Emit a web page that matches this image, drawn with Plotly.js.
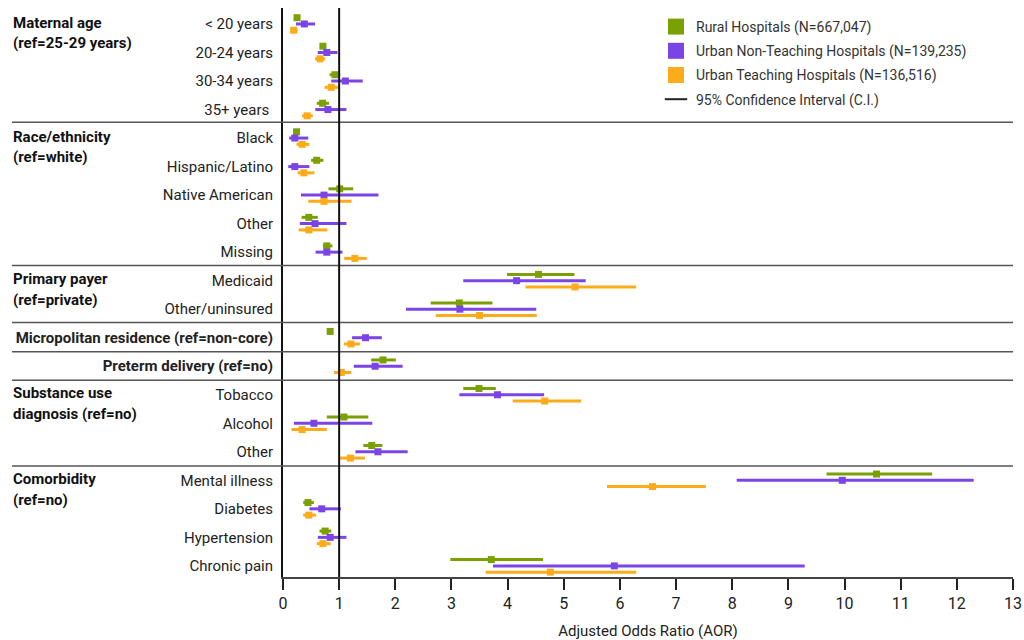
<!DOCTYPE html>
<html>
<head>
<meta charset="utf-8">
<script src="https://cdn.plot.ly/plotly-3.0.1.min.js"></script>
<style>html,body{margin:0;padding:0;background:#fff;}#chart{width:1024px;height:640px;}</style>
</head>
<body>
<div id="chart"></div>
<script>
// Row labels (top to bottom)
var rowLabels = ['< 20 years','20-24 years','30-34 years','35+ years\u00a0',
  'Black','Hispanic/Latino','Native American','Other','Missing',
  'Medicaid','Other/uninsured',
  '<b>Micropolitan residence (ref=non-core)</b>',
  '<b>Preterm delivery (ref=no)</b>',
  'Tobacco','Alcohol','Other',
  'Mental illness','Diabetes','Hypertension','Chronic pain'];

// Group labels: [title, subtitle, first row index]
var groupTitles = ['Maternal age','Race/ethnicity','Primary payer','Substance use','Comorbidity'];
var groupSubs   = ['(ref=25-29 years)','(ref=white)','(ref=private)','diagnosis (ref=no)','(ref=no)'];
var groupRows   = [0, 4, 9, 13, 16];
var separators  = [3.45, 8.47, 10.47, 11.49, 12.49, 15.5];

// Rural Hospitals
var ruralOR = [0.25,0.71,0.925,0.705, 0.24,0.60,1.01,0.46,0.78, 4.55,3.14, 0.84, 1.78, 3.49,1.085,1.58, 10.57,0.445,0.75,3.71];
var ruralLo = [0.22,0.68,0.83,0.60, 0.19,0.50,0.81,0.33,0.71, 3.99,2.63, 0.82, 1.57, 3.21,0.78,1.43, 9.68,0.36,0.65,2.98];
var ruralHi = [0.28,0.77,1.02,0.82, 0.29,0.72,1.25,0.62,0.88, 5.19,3.73, 0.86, 2.01, 3.79,1.52,1.77, 11.56,0.55,0.86,4.63];

// Urban Non-Teaching Hospitals
var untOR = [0.38,0.78,1.11,0.80, 0.21,0.21,0.73,0.57,0.78, 4.16,3.15, 1.47,1.64, 3.82,0.55,1.69, 9.96,0.69,0.84,5.90];
var untLo = [0.23,0.62,0.86,0.575, 0.11,0.094,0.32,0.30,0.58, 3.21,2.19, 1.23,1.26, 3.14,0.195,1.29, 8.08,0.47,0.62,3.74];
var untHi = [0.57,0.97,1.42,1.13, 0.45,0.47,1.70,1.13,1.06, 5.39,4.51, 1.76,2.13, 4.65,1.59,2.22, 12.30,1.03,1.13,9.29];

// Urban Teaching Hospitals
var utOR = [0.19,0.66,0.86,0.43, 0.34,0.37,0.73,0.46,1.28, 5.20,3.50, 1.21,1.04, 4.66,0.34,1.20, 6.58,0.46,0.71,4.76];
var utLo = [0.14,0.57,0.74,0.34, 0.24,0.26,0.45,0.28,1.09, 4.32,2.72, 1.085,0.91, 4.09,0.15,1.01, 5.77,0.36,0.60,3.61];
var utHi = [0.26,0.75,0.99,0.53, 0.47,0.56,1.22,0.79,1.49, 6.29,4.52, 1.375,1.215, 5.31,0.78,1.46, 7.53,0.59,0.85,6.29];

var seriesNames = ['Rural Hospitals (N=667,047)','Urban Non-Teaching Hospitals (N=139,235)','Urban Teaching Hospitals (N=136,516)'];
var ciName = '95% Confidence Interval (C.I.)';
var colors = ['#7ba002','#7b45e6','#feab1a'];
var offsets = [-0.22, 0, 0.22];

var rows = rowLabels.map(function(_, i){ return i; });
var sets = [[ruralOR,ruralLo,ruralHi],[untOR,untLo,untHi],[utOR,utLo,utHi]];

var traces = [];
sets.forEach(function(s, k){
  var or = s[0], lo = s[1], hi = s[2];
  traces.push({
    type:'scatter', mode:'markers',
    x: or,
    y: rows.map(function(r){ return r + offsets[k]; }),
    marker:{symbol:'square', size:7, color:colors[k]},
    error_x:{type:'data', symmetric:false,
      array: or.map(function(v,i){ return hi[i]-v; }),
      arrayminus: or.map(function(v,i){ return v-lo[i]; }),
      width:0, thickness:3, color:colors[k]},
    showlegend:false, hoverinfo:'x'
  });
});
// legend entries
seriesNames.forEach(function(n,k){
  traces.push({type:'scatter', mode:'markers', x:[null], y:[null], name:n,
    legendgroup:'g'+k, marker:{symbol:'square', size:16, color:colors[k]}});
});
traces.push({type:'scatter', mode:'markers', x:[null], y:[null], name:ciName,
  legendgroup:'g3', marker:{symbol:'line-ew', size:16, color:'#222', line:{width:2, color:'#222'}}});

var L = 283, R = 1013, T = 8, B = 577;
function px2paper(p){ return (p - L)/(R - L); }

var shapes = [];
separators.forEach(function(s){
  shapes.push({type:'line', xref:'paper', yref:'y', x0:px2paper(12), x1:1, y0:s, y1:s,
    line:{color:'#555', width:1.5}});
});
shapes.push({type:'line', xref:'x', yref:'paper', x0:1, x1:1, y0:0, y1:1, line:{color:'#111', width:2}});

var annotations = [];
groupTitles.forEach(function(t,k){
  annotations.push({xref:'paper', yref:'y', x:px2paper(11), y:groupRows[k]-0.05, text:'<b>'+t+'</b>',
    xanchor:'left', yanchor:'middle', showarrow:false, font:{family:'Roboto', size:15, color:'#111'}});
  annotations.push({xref:'paper', yref:'y', x:px2paper(11), y:groupRows[k]+0.68, text:'<b>'+groupSubs[k]+'</b>',
    xanchor:'left', yanchor:'middle', showarrow:false, font:{family:'Roboto', size:15, color:'#111'}});
});

var layout = {
  width:1024, height:640,
  margin:{l:L, r:1024-R, t:T, b:640-B},
  paper_bgcolor:'#fff', plot_bgcolor:'#fff',
  font:{family:'Roboto', color:'#222'},
  xaxis:{range:[0,13], dtick:1, tick0:0, showgrid:false, zeroline:false,
    showline:true, linecolor:'#444', linewidth:2,
    ticks:'outside', ticklen:11, tickwidth:2, tickcolor:'#222',
    tickfont:{family:'Roboto', size:16, color:'#222'},
    title:{text:'Adjusted Odds Ratio (AOR)', font:{family:'Roboto', size:15, color:'#222'}, standoff:14}},
  yaxis:{range:[19.39,-0.56], showgrid:false, zeroline:false,
    showline:true, linecolor:'#111', linewidth:2,
    tickvals:rows, ticktext:rowLabels,
    ticks:'outside', ticklen:5, tickcolor:'rgba(0,0,0,0)',
    tickfont:{family:'Roboto', size:15, color:'#222'}},
  showlegend:true,
  legend:{x:px2paper(656), xanchor:'left', y:1 - 3/(B-T), yanchor:'top', yref:'paper',
    font:{family:'Roboto', size:14, color:'#333'}, tracegroupgap:3,
    bgcolor:'rgba(0,0,0,0)'},
  shapes:shapes, annotations:annotations
};

Plotly.newPlot('chart', traces, layout, {displayModeBar:false, staticPlot:true});
</script>
</body>
</html>
